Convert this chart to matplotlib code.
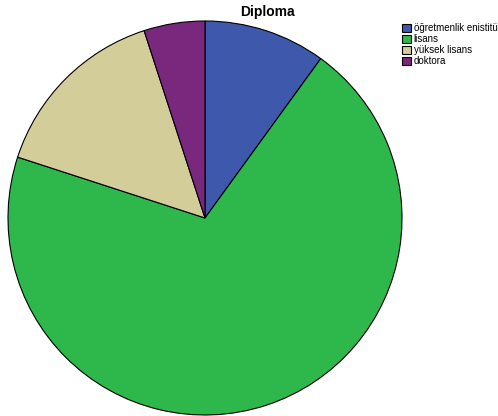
import matplotlib.pyplot as plt

# Diploma distribution
labels = ['öğretmenlik enistitüsü', 'lisans', 'yüksek lisans', 'doktora']
values = [10, 70, 15, 5]
colors = ['#3e58ac', '#2eb84b', '#d3cd9a', '#79287d']

plt.rcParams['font.family'] = ['Liberation Sans', 'DejaVu Sans']

fig = plt.figure(figsize=(4.98, 4.16), dpi=100)
ax = fig.add_axes([8 / 498, 1 / 416, 394 / 498, 394 / 416])

wedges, _ = ax.pie(values, colors=colors, startangle=90, counterclock=False,
                   radius=1.0,
                   wedgeprops=dict(edgecolor='black', linewidth=0.8))
ax.set_xlim(-1.0, 1.0)
ax.set_ylim(-1.0, 1.0)
ax.set_aspect('equal')

fig.text(267 / 498, 1 - 12 / 416, 'Diploma', ha='center', va='center',
         fontsize=10, fontweight='bold')

# legend runs off the right edge, long label gets clipped
fig.legend(wedges, labels, loc='upper left', bbox_to_anchor=(402 / 498, 1 - 23 / 416),
           frameon=False, fontsize=7, handlelength=0.9, handleheight=0.9,
           handletextpad=0.3, labelspacing=0.12, borderpad=0, borderaxespad=0)

fig.savefig('out.png', dpi=100)
